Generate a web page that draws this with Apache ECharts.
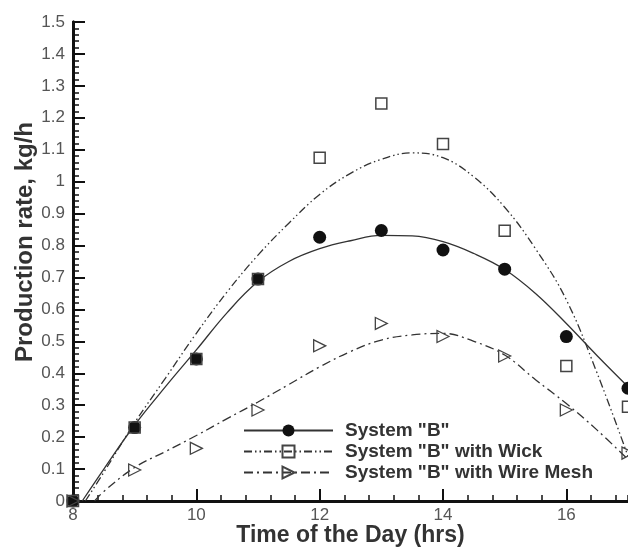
<!DOCTYPE html>
<html>
<head>
<meta charset="utf-8">
<script src="https://cdn.jsdelivr.net/npm/echarts@6/dist/echarts.min.js"></script>
<style>
    html, body { margin: 0; padding: 0; background: #fff; }
    #mychart { width: 628px; height: 547px; }
</style>
</head>
<body>
<div id="mychart"></div>
<script>
// measured points (hour, kg/h)
var hours = [8, 9, 10, 11, 12, 13, 14, 15, 16, 17]
var sysB = [0, 0.23, 0.445, 0.695, 0.826, 0.847, 0.786, 0.726, 0.515, 0.353]
var sysWick = [0, 0.23, 0.445, 0.695, 1.075, 1.245, 1.118, 0.846, 0.423, 0.295]
var sysMesh = [0, 0.097, 0.165, 0.285, 0.486, 0.556, 0.515, 0.454, 0.285, 0.15]

// fitted curves
var fitHoursB = [8.15, 8.5, 9, 9.5, 10, 10.5, 11, 11.5, 12, 12.5, 13, 13.5, 14, 14.5, 15, 15.5, 16, 16.5, 17]
var fitB = [0, 0.1, 0.238, 0.358, 0.473, 0.59, 0.687, 0.75, 0.79, 0.815, 0.832, 0.83, 0.812, 0.775, 0.725, 0.65, 0.556, 0.455, 0.358]
var fitHoursWick = [8.2, 8.5, 9, 9.5, 10, 10.5, 11, 11.5, 12, 12.5, 13, 13.5, 14, 14.5, 15, 15.5, 16, 16.5, 17]
var fitWick = [0, 0.09, 0.245, 0.385, 0.525, 0.655, 0.77, 0.87, 0.96, 1.026, 1.07, 1.09, 1.075, 1.015, 0.92, 0.79, 0.63, 0.4, 0.14]
var fitHoursMesh = [8.35, 8.5, 9, 9.5, 10, 10.5, 11, 11.5, 12, 12.5, 13, 13.5, 14, 14.5, 15, 15.5, 16, 16.5, 17]
var fitMesh = [0, 0.03, 0.105, 0.155, 0.205, 0.258, 0.31, 0.365, 0.42, 0.468, 0.504, 0.52, 0.525, 0.5, 0.457, 0.38, 0.305, 0.222, 0.13]

var names = ['System "B"', 'System "B" with Wick', 'System "B" with Wire Mesh']

function pairs(xs, ys) {
    var out = []
    for (var i = 0; i < xs.length; i++) {
        out.push([xs[i], ys[i]])
    }
    return out
}

var fontName = '"Liberation Sans", Arial, sans-serif'
var lineColor = '#333'
var gridBox = { left: 73, right: 0, top: 22, bottom: 46, containLabel: false, outerBoundsMode: 'none' }
var gridH = 547 - 22 - 46

var myChart = echarts.init(document.getElementById('mychart'))

var option = {
    backgroundColor: '#fff',
    animation: false,
    // grid 0 carries the data, grid 1 (same box) only the minor ticks
    grid: [
        Object.assign({}, gridBox),
        Object.assign({}, gridBox),
    ],
    legend: {
        data: names,
        orient: 'vertical',
        left: 238,
        top: 416,
        itemWidth: 89,
        itemHeight: 15,
        itemGap: 2,
        textStyle: {
            fontFamily: fontName,
            fontSize: 19,
            fontWeight: 'bold',
            color: '#333',
            padding: [0, 0, 0, 7],
        },
    },
    xAxis: [{
        gridIndex: 0,
        type: 'value',
        min: 8,
        max: 17,
        interval: 2,
        name: 'Time of the Day (hrs)',
        nameLocation: 'middle',
        nameGap: 23,
        nameMoveOverlap: false,
        nameTextStyle: {
            fontFamily: fontName,
            fontSize: 23,
            fontWeight: 'bold',
            color: '#333',
        },
        splitLine: { show: false },
        axisLine: {
            show: true,
            lineStyle: { color: '#111', width: 3 },
        },
        axisTick: {
            show: true,
            inside: true,
            length: 12,
            lineStyle: { color: '#111', width: 2 },
        },
        axisLabel: {
            showMaxLabel: false,
            margin: 6,
            fontFamily: fontName,
            fontSize: 17,
            color: '#555',
        },
    }, {
        // minor ticks: a top axis pulled down onto the bottom edge, ticks point up
        gridIndex: 1,
        type: 'value',
        position: 'top',
        offset: -gridH,
        min: 8,
        max: 17,
        interval: 0.4,
        splitLine: { show: false },
        axisLine: { show: false, onZero: false },
        axisTick: {
            show: true,
            inside: false,
            length: 6,
            lineStyle: { color: '#111', width: 1.5 },
        },
        axisLabel: { show: false },
    }],
    yAxis: [{
        gridIndex: 0,
        type: 'value',
        min: 0,
        max: 1.5,
        interval: 0.1,
        splitLine: { show: false },
        axisLine: {
            show: true,
            lineStyle: { color: '#111', width: 3 },
        },
        axisTick: {
            show: true,
            inside: true,
            length: 12,
            lineStyle: { color: '#111', width: 2 },
        },
        axisLabel: {
            margin: 8,
            fontFamily: fontName,
            fontSize: 17,
            color: '#555',
        },
    }, {
        // minor ticks every 0.02
        gridIndex: 1,
        type: 'value',
        position: 'left',
        min: 0,
        max: 1.5,
        interval: 0.02,
        splitLine: { show: false },
        axisLine: { show: true, onZero: false, lineStyle: { color: '#111', width: 3 } },
        axisTick: {
            show: true,
            inside: true,
            length: 6,
            lineStyle: { color: '#111', width: 1.5 },
        },
        axisLabel: { show: false },
    }],
    graphic: [{
        type: 'text',
        x: 25,
        y: 242,
        rotation: Math.PI / 2,
        style: {
            text: 'Production rate, kg/h',
            font: 'bold 24px ' + fontName,
            fill: '#333',
            align: 'center',
            verticalAlign: 'middle',
            textAlign: 'center',
            textVerticalAlign: 'middle',
        },
    }],
    series: [{
            name: names[0],
            type: 'line',
            data: pairs(fitHoursB, fitB),
            smooth: 0.4,
            showSymbol: false,
            symbol: 'circle',
            itemStyle: { color: '#111' },
            lineStyle: { color: lineColor, width: 1.3, type: 'solid' },
            z: 2,
        },
        {
            name: names[1],
            type: 'line',
            data: pairs(fitHoursWick, fitWick),
            smooth: 0.4,
            showSymbol: false,
            symbol: 'rect',
            itemStyle: { color: 'transparent', borderColor: '#444', borderWidth: 1.5 },
            lineStyle: { color: lineColor, width: 1.3, type: [8, 3, 1.5, 3, 1.5, 3] },
            z: 2,
        },
        {
            name: names[2],
            type: 'line',
            data: pairs(fitHoursMesh, fitMesh),
            smooth: 0.4,
            showSymbol: false,
            symbol: 'triangle',
            symbolRotate: -90,
            itemStyle: { color: 'transparent', borderColor: '#444', borderWidth: 1.3 },
            lineStyle: { color: lineColor, width: 1.3, type: [9, 4, 2, 4] },
            z: 2,
        },
        {
            name: 'B points',
            type: 'scatter',
            data: pairs(hours, sysB),
            symbol: 'circle',
            symbolSize: 13,
            itemStyle: { color: '#111', opacity: 1 },
            z: 3,
        },
        {
            name: 'Wick points',
            type: 'scatter',
            data: pairs(hours, sysWick),
            symbol: 'rect',
            symbolSize: 11,
            itemStyle: { color: 'transparent', borderColor: '#444', borderWidth: 1.5, opacity: 1 },
            z: 4,
        },
        {
            name: 'Mesh points',
            type: 'scatter',
            data: pairs(hours, sysMesh),
            symbol: 'triangle',
            symbolRotate: -90,
            symbolSize: 12,
            itemStyle: { color: 'transparent', borderColor: '#444', borderWidth: 1.3, opacity: 1 },
            z: 4,
        },
    ],
}

myChart.setOption(option)
</script>
</body>
</html>
